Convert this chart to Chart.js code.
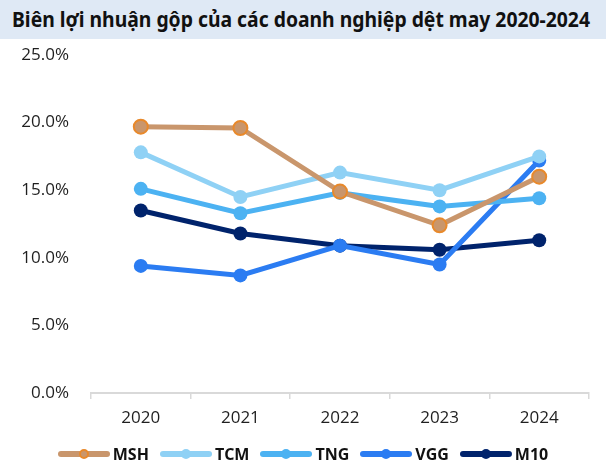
<!DOCTYPE html>
<html>
<head>
<meta charset="utf-8">
<script src="https://cdn.jsdelivr.net/npm/chart.js@4"></script>
<style>
  html, body { margin:0; padding:0; background:#fff; }
  body { width:606px; height:466px; position:relative; overflow:hidden; font-family:"Open Sans","Noto Sans",sans-serif; }
  #title { position:absolute; left:0; top:0; width:606px; height:39px; background:#dfe9f5; }
  #title span { position:absolute; left:12px; top:5px; font-size:21px; font-weight:700; color:#111; white-space:nowrap; transform-origin:0 0; font-family:"Noto Sans","Open Sans",sans-serif; }
  #wrap { position:absolute; left:0; top:0; width:606px; height:466px; }
  #legend { position:absolute; left:0; width:606px; top:443px; height:22px; display:flex; justify-content:center; gap:11px; }
  .item { display:flex; align-items:center; }
  .sw { position:relative; width:52px; height:22px; margin-right:3px; }
  .sw .ln { position:absolute; left:0; top:8px; width:52px; height:6px; border-radius:3px; }
  .sw .dot { position:absolute; left:21px; top:6px; width:10px; height:10px; border-radius:50%; box-sizing:border-box; }
  .lb { font-size:16px; font-weight:700; color:#111; }
</style>
</head>
<body>
<div id="wrap"><canvas id="c" width="606" height="466"></canvas></div>
<div id="title"><span id="tt">Biên lợi nhuận gộp của các doanh nghiệp dệt may 2020-2024</span></div>
<div id="legend"></div>
<script>
const years = ["2020", "2021", "2022", "2023", "2024"];
const seriesNames = ["MSH", "TCM", "TNG", "VGG", "M10"];
const MSH = [19.7, 19.6, 14.9, 12.4, 16.0];
const TCM = [17.8, 14.5, 16.3, 15.0, 17.5];
const TNG = [15.1, 13.3, 14.8, 13.8, 14.4];
const VGG = [9.4, 8.7, 10.9, 9.5, 17.2];
const M10 = [13.5, 11.8, 10.9, 10.6, 11.3];
const yTicks = [0, 5, 10, 15, 20, 25];

const colors = { MSH: "#c9966c", TCM: "#8fd1f5", TNG: "#4cb2f2", VGG: "#2b7cf2", M10: "#00236c" };
const borders = { MSH: "#e8892b", TCM: "#8fd1f5", TNG: "#4cb2f2", VGG: "#2b7cf2", M10: "#00236c" };
const values = { MSH, TCM, TNG, VGG, M10 };

// fit title width
const tt = document.getElementById('tt');
const w = tt.getBoundingClientRect().width;
tt.style.transform = 'scaleX(' + (578 / w) + ')';

const datasets = seriesNames.map(n => ({
  label: n,
  data: values[n],
  borderColor: colors[n],
  backgroundColor: colors[n],
  pointBackgroundColor: colors[n],
  pointBorderColor: borders[n],
  pointBorderWidth: n === "MSH" ? 2 : 0,
  pointRadius: 7,
  borderWidth: 5,
  tension: 0,
}));

// legend
const lg = document.getElementById('legend');
seriesNames.forEach(n => {
  const it = document.createElement('div'); it.className = 'item';
  const sw = document.createElement('div'); sw.className = 'sw';
  const ln = document.createElement('div'); ln.className = 'ln'; ln.style.background = colors[n];
  const dot = document.createElement('div'); dot.className = 'dot'; dot.style.background = colors[n];
  if (n === "MSH") dot.style.border = '2px solid ' + borders[n];
  sw.appendChild(ln); sw.appendChild(dot);
  const lb = document.createElement('span'); lb.className = 'lb'; lb.textContent = n;
  it.appendChild(sw); it.appendChild(lb); lg.appendChild(it);
});

new Chart(document.getElementById('c'), {
  type: 'line',
  data: { labels: years, datasets },
  options: {
    responsive: false,
    animation: false,
    layout: { padding: { top: 55, right: 17, left: 0, bottom: 0 } },
    plugins: { legend: { display: false }, tooltip: { enabled: false } },
    scales: {
      x: {
        offset: true,
        grid: { display: true, drawOnChartArea: false, offset: true, drawTicks: true, tickLength: 6, color: '#d9d9d9', lineWidth: 1.5 },
        border: { display: true, color: '#d9d9d9', width: 2 },
        ticks: { color: '#1f1f1f', font: { family: "Open Sans", size: 17 }, padding: 9 },
        afterFit: s => { s.height = 73; }
      },
      y: {
        min: 0, max: 25,
        afterBuildTicks: s => { s.ticks = yTicks.map(v => ({ value: v })); },
        grid: { display: false, drawTicks: false },
        border: { display: false },
        ticks: { color: '#1f1f1f', font: { family: "Open Sans", size: 17 }, padding: 22,
          callback: v => v.toFixed(1) + '%' },
        afterFit: s => { s.width = 91; }
      }
    }
  }
});
</script>
</body>
</html>
